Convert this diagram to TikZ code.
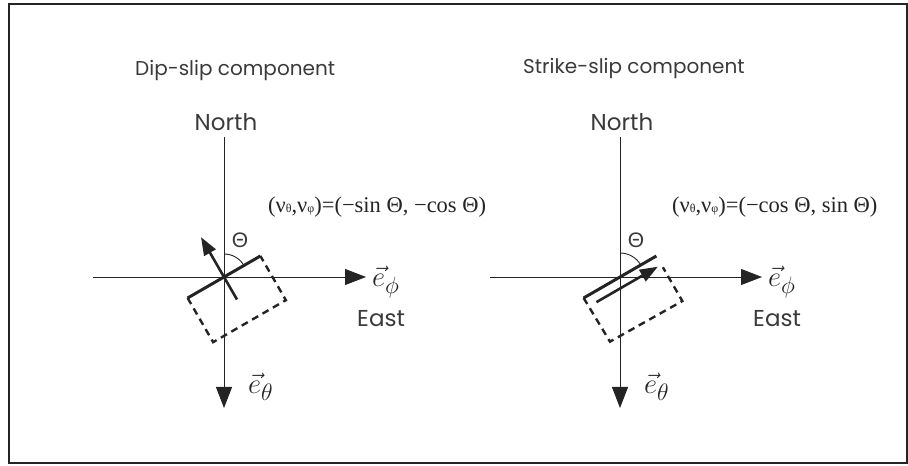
\documentclass[tikz,border=0pt]{standalone}
\usepackage{fontspec}
\setmainfont{Liberation Serif}
\setsansfont{Poppins}
\newfontfamily\grkfont{Liberation Sans}
\usetikzlibrary{arrows.meta}
\definecolor{InkGray}{HTML}{242424}
\definecolor{TextGray}{HTML}{3A3A3A}
\tikzset{
  % axes with big filled heads
  ax/.style={line width=0.9pt,draw=InkGray,-{Triangle[length=21pt,width=16pt]}},
  % fault trace
  FL/.style={line width=3pt,draw=InkGray},
  % slip vector
  SV/.style={line width=2.6pt,draw=InkGray,-{Triangle[length=18pt,width=13pt]}},
  % projected fault plane
  DS/.style={line width=2.4pt,draw=InkGray,dash pattern=on 7pt off 5pt},
  ang/.style={line width=0.9pt,draw=InkGray},
  % labels
  TT/.style={font=\sffamily\fontsize{20}{22}\selectfont,text=TextGray,anchor=base west,inner sep=0pt},
  LN/.style={font=\sffamily\fontsize{23}{25}\selectfont,text=TextGray,anchor=base,inner sep=0pt},
  LE/.style={font=\sffamily\fontsize{23}{25}\selectfont,text=TextGray,anchor=base west,inner sep=0pt},
  LV/.style={font=\fontsize{24.88}{28}\selectfont,text=InkGray,anchor=west,inner sep=0pt},
  LA/.style={font=\grkfont\fontsize{21}{23}\selectfont,text=TextGray},
  LF/.style={font=\fontsize{22.5}{25}\selectfont,text=InkGray,anchor=base west,inner sep=0pt}
}
\newcommand{\smallsub}[1]{{\fontsize{12}{13}\selectfont #1}}
\newcommand{\bigvec}[1]{\scalebox{1.15}{$#1$}}

\begin{document}
\begin{tikzpicture}[x=1pt,y=1pt]
  \useasboundingbox (0,0) rectangle (908,466);
  \draw[line width=1.5pt,InkGray] (9,3) rectangle (907,462);

  % ---- dip-slip ----
  \node[TT] (t1) at (135,390) {Dip-slip component};
  \coordinate (O1) at (224,189);
  \coordinate (N1) at (224,329);
  \coordinate (S1) at (224,58);
  \coordinate (W1) at (93,189);
  \coordinate (E1) at (366,189);
  \node[LN] (north1) at (226,335) {North};
  \draw[ax] (N1) -- (S1);
  \draw[ax] (W1) -- (E1);
  \node[LV] (ephi1) at (372,184) {\bigvec{\vec{e}_{\phi}}};
  \node[LE] (east1) at (357,139) {East};
  \node[LV] (eth1) at (248,79) {\bigvec{\vec{e}_{\theta}}};
  \node[LF] (v1) at (268,253) {(ν\smallsub{θ},ν\smallsub{φ})=(−sin Θ, −cos Θ)};
  \node[LA] (th1) at (240,226) {Θ};
  \draw[ang] (O1) ++(90:23) arc[start angle=90,end angle=31,radius=23];
  \begin{scope}[shift={(O1)},rotate=30]
    \coordinate (f1a) at (-42,0);
    \coordinate (f1b) at (42,0);
    \draw[DS] (f1a) -- (-42,-51) -- (42,-51) -- (f1b);
    \draw[FL] (f1a) -- (f1b);
    \coordinate (s1a) at (0,-26);
    \coordinate (s1b) at (0,46);
    \draw[SV] (s1a) -- (s1b);
  \end{scope}

  % ---- strike-slip ----
  \node[TT] (t2) at (523,392) {Strike-slip component};
  \coordinate (O2) at (620,189);
  \coordinate (N2) at (620,329);
  \coordinate (S2) at (620,58);
  \coordinate (W2) at (490,189);
  \coordinate (E2) at (762,189);
  \node[LN] (north2) at (622,335) {North};
  \draw[ax] (N2) -- (S2);
  \draw[ax] (W2) -- (E2);
  \node[LV] (ephi2) at (768,184) {\bigvec{\vec{e}_{\phi}}};
  \node[LE] (east2) at (753,139) {East};
  \node[LV] (eth2) at (644,79) {\bigvec{\vec{e}_{\theta}}};
  \node[LF] (v2) at (672,253) {(ν\smallsub{θ},ν\smallsub{φ})=(−cos Θ, sin Θ)};
  \node[LA] (th2) at (636,226) {Θ};
  \draw[ang] (O2) ++(90:24) arc[start angle=90,end angle=31,radius=24];
  \begin{scope}[shift={(O2)},rotate=30]
    \coordinate (f2a) at (-42,0);
    \coordinate (f2b) at (42,0);
    \draw[DS] (f2a) -- (-41,-51) -- (42,-52) -- (42,-13);
    \draw[FL] (f2a) -- (f2b);
    \coordinate (s2a) at (-33,-10);
    \coordinate (s2b) at (38,-10);
    \draw[SV] (s2a) -- (s2b);
  \end{scope}
\end{tikzpicture}
\end{document}
